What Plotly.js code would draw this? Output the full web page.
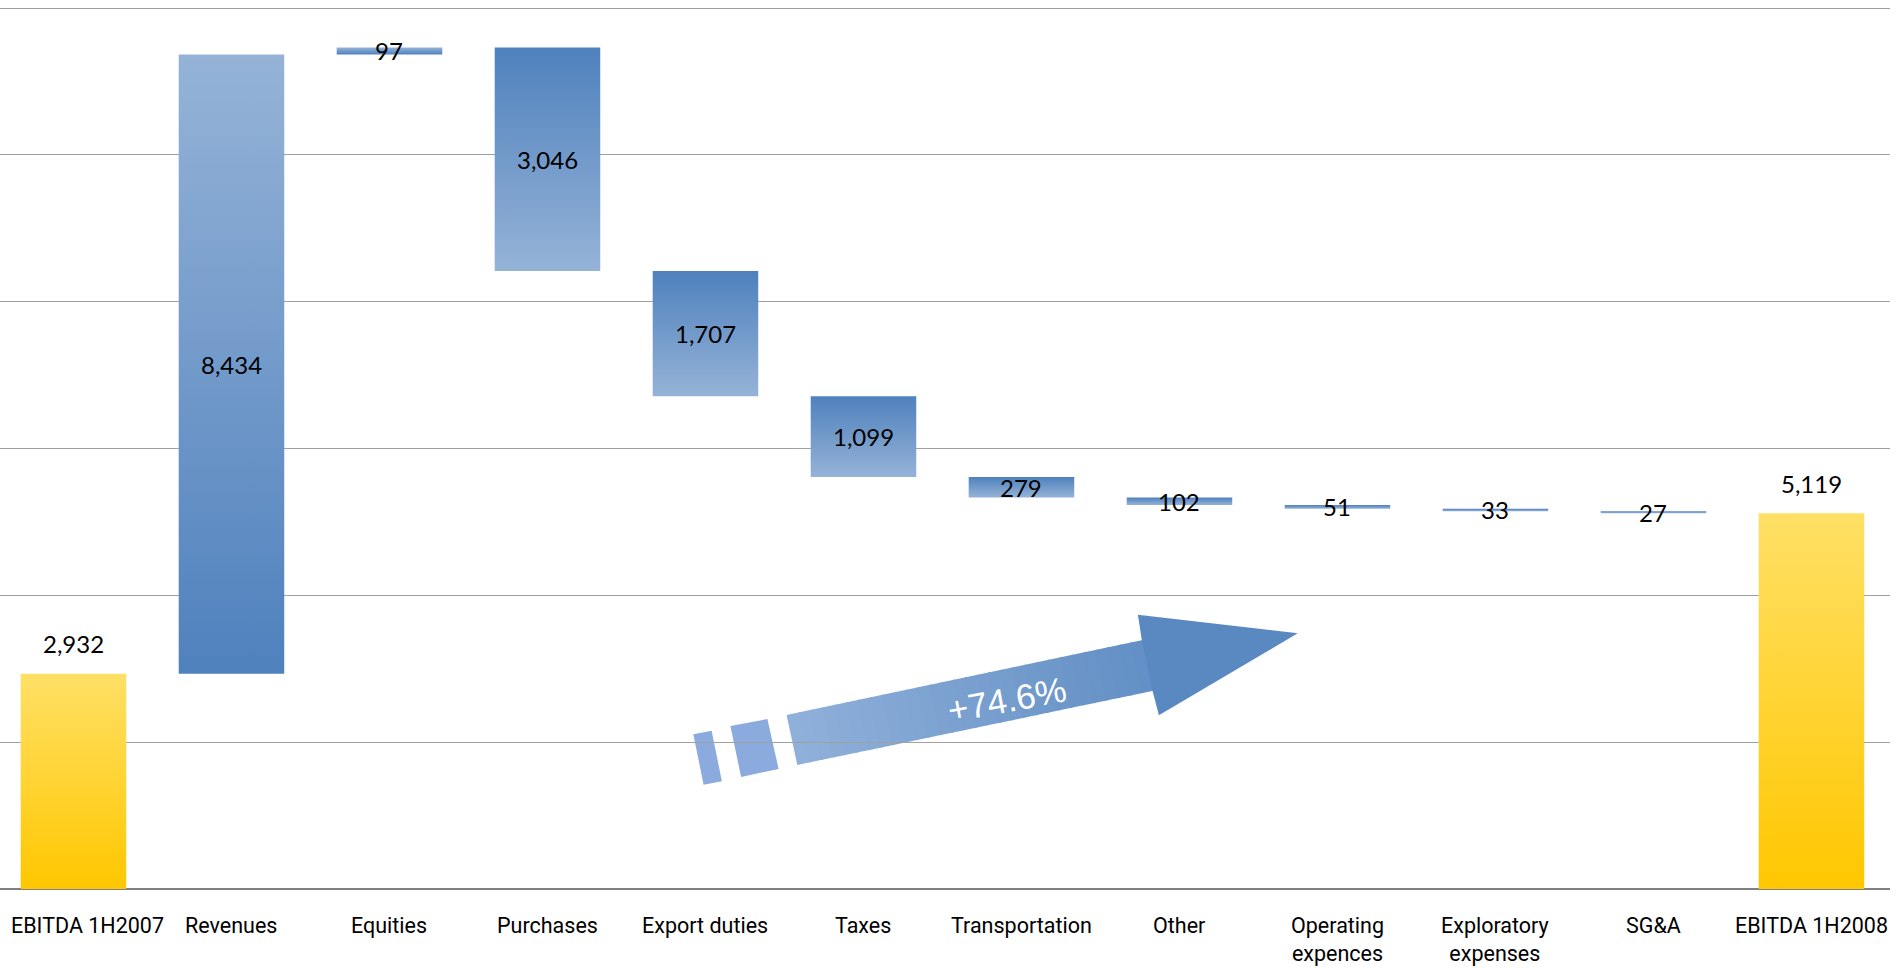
<!DOCTYPE html>
<html>
<head>
<meta charset="utf-8">
<script src="https://cdn.plot.ly/plotly-3.0.1.min.js"></script>
<style>
  html, body { margin: 0; padding: 0; background: #ffffff; }
  #chart { width: 1898px; height: 968px; }
</style>
</head>
<body>
<div id="chart"></div>
<script>
// ---- data ----
const categories = ['EBITDA 1H2007', 'Revenues', 'Equities', 'Purchases', 'Export duties', 'Taxes',
  'Transportation', 'Other', 'Operating<br>expences', 'Exploratory<br>expenses', 'SG&amp;A', 'EBITDA 1H2008'];
const values = [2932, 8434, 97, -3046, -1707, -1099, -279, -102, -51, -33, -27, 5119];
const kinds = ['total', 'up', 'up', 'down', 'down', 'down', 'down', 'down', 'down', 'down', 'down', 'total'];
const growthLabel = '+74.6%';
const yTicks = [0, 2000, 4000, 6000, 8000, 10000, 12000];

// ---- styles ----
const W = 1898, H = 968;
const M = {l: 0, r: 8, t: 5, b: 79};
const plotW = W - M.l - M.r, plotH = H - M.t - M.b;
const yTop = 12000 * plotH / (plotH - 3);
const xRange = [-0.465, 11.497];
const halfW = 0.334;
const scales = {
  up:    [[0, '#4F81BD'], [1, '#95B3D7']],
  down:  [[0, '#95B3D7'], [1, '#4F81BD']],
  total: [[0, '#FFC700'], [1, '#FFE066']]
};
const fallback = {up: '#7199CA', down: '#7199CA', total: '#FFD53A'};
const fmt = v => Math.abs(v).toLocaleString('en-US');

// ---- build waterfall ----
const traces = [];
const annotations = [];
let running = 0;
values.forEach((v, i) => {
  let lo, hi;
  if (kinds[i] === 'total') { lo = 0; hi = v; running = v; }
  else { const s = running, e = running + v; lo = Math.min(s, e); hi = Math.max(s, e); running = e; }
  traces.push({
    type: 'scatter', mode: 'lines', fill: 'toself',
    x: [i - halfW, i + halfW, i + halfW, i - halfW, i - halfW],
    y: [lo, lo, hi, hi, lo],
    line: {width: 0, color: 'rgba(0,0,0,0)'},
    fillcolor: fallback[kinds[i]],
    fillgradient: {type: 'vertical', colorscale: scales[kinds[i]]},
    hoverinfo: 'skip', showlegend: false
  });
  annotations.push({
    x: i, y: kinds[i] === 'total' ? hi : (lo + hi) / 2,
    yshift: kinds[i] === 'total' ? 30 : 0,
    xref: 'x', yref: 'y', showarrow: false, xanchor: 'center', yanchor: 'middle',
    text: fmt(v),
    font: {family: 'Lato, sans-serif', size: 24, color: '#000000'}
  });
});

// ---- category labels (first one kept inside the page at the left edge, like the original) ----
categories.forEach((c, i) => {
  const first = i === 0;
  annotations.push({
    x: first ? xRange[0] : i, xref: 'x', xanchor: first ? 'left' : 'center', xshift: first ? 9 : 0,
    y: 0, yref: 'paper', yanchor: 'top', yshift: -22,
    showarrow: false, text: c, align: 'center',
    font: {family: 'Roboto, sans-serif', size: 21.5, color: '#000000'}
  });
});

// ---- decorative growth arrow (pixel positions -> paper) ----
const px = (x, y) => [(x - M.l) / plotW, (M.t + plotH - y) / plotH];
const pathOf = pts => 'M' + pts.map(p => { const q = px(p[0], p[1]); return q[0].toFixed(5) + ',' + q[1].toFixed(5); }).join(' L') + ' Z';
const lerp = (a, b, t) => [a[0] + (b[0] - a[0]) * t, a[1] + (b[1] - a[1]) * t];
const c0 = [145, 177, 218], c1 = [79, 129, 189];
const xA = 786, xB = 1298;
const colAt = x => { const t = Math.max(0, Math.min(1, (x - xA) / (xB - xA))); return 'rgb(' + c0.map((c, k) => Math.round(c + (c1[k] - c) * t)).join(',') + ')'; };
const shapes = [];
const dashColor = '#8BAADD';
shapes.push({type: 'path', xref: 'paper', yref: 'paper', layer: 'below', line: {width: 0}, fillcolor: dashColor,
  path: pathOf([[693.3, 734.3], [711.6, 730.7], [721.9, 781.3], [703.6, 784.7]])});
shapes.push({type: 'path', xref: 'paper', yref: 'paper', layer: 'below', line: {width: 0}, fillcolor: dashColor,
  path: pathOf([[730.4, 726], [767.4, 719], [778.6, 769], [741.1, 777]])});
const TL = [786.6, 715], BL = [797.3, 765], TH = [1142.8, 640], BH = [1153.5, 690.7];
const HT = [1137.9, 614.7], TIP = [1297.7, 633.3], HB = [1158.9, 715.3];
const N = 30;
for (let k = 0; k < N; k++) {
  const t0 = k / N, t1 = Math.min(1, (k + 1) / N + 0.006);
  const a = lerp(TL, TH, t0), b = lerp(TL, TH, t1), c = lerp(BL, BH, t1), d = lerp(BL, BH, t0);
  shapes.push({type: 'path', xref: 'paper', yref: 'paper', layer: 'below', line: {width: 0},
    fillcolor: colAt((a[0] + b[0] + c[0] + d[0]) / 4), path: pathOf([a, b, c, d])});
}
shapes.push({type: 'path', xref: 'paper', yref: 'paper', layer: 'below', line: {width: 0},
  fillcolor: colAt(1210), path: pathOf([[TH[0] - 1, TH[1]], HT, TIP, HB, [BH[0] - 1, BH[1]]])});
const tp = px(1007, 699);
annotations.push({xref: 'paper', yref: 'paper', x: tp[0], y: tp[1], xanchor: 'center', yanchor: 'middle',
  showarrow: false, textangle: -10.5,
  text: growthLabel, font: {family: 'Liberation Sans, Arial, sans-serif', size: 35, color: '#ffffff'}});

const layout = {
  width: W, height: H,
  margin: M,
  paper_bgcolor: '#ffffff', plot_bgcolor: 'rgba(0,0,0,0)',
  showlegend: false,
  xaxis: {
    range: xRange, tickmode: 'array', tickvals: categories.map((_, i) => i), ticktext: categories,
    showticklabels: false,
    showgrid: false, zeroline: false, showline: false, ticks: '', fixedrange: true
  },
  yaxis: {
    range: [0, yTop], tickmode: 'array', tickvals: yTicks, showticklabels: false,
    showgrid: true, gridcolor: '#A0A0A0', gridwidth: 1,
    zeroline: true, zerolinecolor: '#808080', zerolinewidth: 1.5, showline: false, ticks: '', fixedrange: true
  },
  shapes: shapes,
  annotations: annotations
};
Plotly.newPlot('chart', traces, layout, {staticPlot: true, displayModeBar: false});
</script>
</body>
</html>
